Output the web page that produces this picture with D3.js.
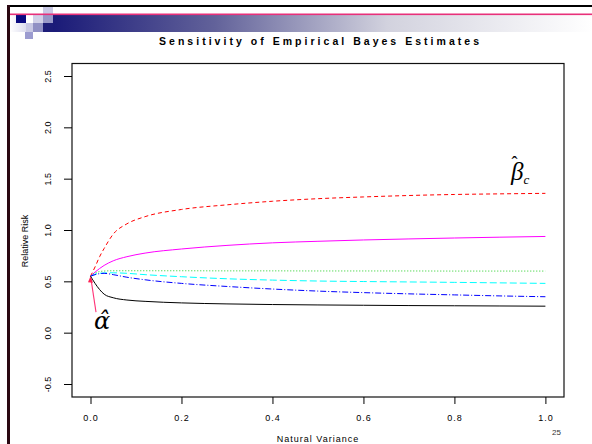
<!DOCTYPE html>
<html><head><meta charset="utf-8">
<script src="https://cdn.jsdelivr.net/npm/d3@7"></script>
<style>body{margin:0;background:#fff}svg{display:block}</style>
</head><body>
<svg id="c" width="592" height="444"></svg>
<script>
const xValues = [0, 0.01, 0.02, 0.03, 0.05, 0.08, 0.12, 0.2, 0.3, 0.4, 0.5, 0.6, 0.7, 0.8, 0.9, 1.0];
const redDashed   = [0.55, 0.64, 0.74, 0.82, 0.96, 1.06, 1.13, 1.20, 1.245, 1.28, 1.305, 1.322, 1.336, 1.346, 1.352, 1.357];
const magentaLine = [0.55, 0.59, 0.625, 0.655, 0.70, 0.74, 0.775, 0.815, 0.85, 0.875, 0.89, 0.903, 0.913, 0.922, 0.93, 0.937];
const greenDotted = [0.55, 0.58, 0.595, 0.60, 0.603, 0.603, 0.603, 0.603, 0.602, 0.602, 0.601, 0.601, 0.601, 0.60, 0.60, 0.60];
const cyanDashed  = [0.55, 0.57, 0.578, 0.582, 0.583, 0.578, 0.565, 0.545, 0.525, 0.512, 0.503, 0.498, 0.494, 0.49, 0.485, 0.48];
const blueDashDot = [0.55, 0.565, 0.575, 0.578, 0.565, 0.54, 0.515, 0.48, 0.45, 0.425, 0.405, 0.39, 0.378, 0.368, 0.358, 0.35];
const blackLine   = [0.55, 0.48, 0.42, 0.375, 0.34, 0.318, 0.305, 0.29, 0.28, 0.274, 0.27, 0.267, 0.264, 0.262, 0.26, 0.258];
const xTicks = [0, 0.2, 0.4, 0.6, 0.8, 1.0];
const yTicks = [-0.5, 0, 0.5, 1.0, 1.5, 2.0, 2.5];
const titleText = "Sensitivity of Empirical Bayes Estimates";
const xLabel = "Natural Variance";
const yLabel = "Relative Risk";
const pageNumber = "25";

const series = [
  {v: redDashed, color: "#ff0000", dash: "4,3"},
  {v: magentaLine, color: "#ff00ff", dash: null},
  {v: greenDotted, color: "#22cc22", dash: "1,2"},
  {v: cyanDashed, color: "#00ffff", dash: "7,3"},
  {v: blueDashDot, color: "#0000ff", dash: "6,2,1,2"},
  {v: blackLine, color: "#000000", dash: null}
];

const svg = d3.select("#c");
const font = "'Liberation Sans', Arial, sans-serif";
const fmt = d => d3.format(".1f")(d).replace("\u2212", "-");

// slide decoration
const defs = svg.append("defs");
const grad = defs.append("linearGradient").attr("id","banner").attr("x1","0%").attr("x2","100%");
grad.append("stop").attr("offset","0%").attr("stop-color","#1a1a78");
grad.append("stop").attr("offset","30%").attr("stop-color","#62629a");
grad.append("stop").attr("offset","62%").attr("stop-color","#d2d2de");
grad.append("stop").attr("offset","100%").attr("stop-color","#ffffff");
const lg = defs.append("linearGradient").attr("id","leftfade").attr("x1","0%").attr("x2","100%");
lg.append("stop").attr("offset","0%").attr("stop-color","#ffffff");
lg.append("stop").attr("offset","100%").attr("stop-color","#dcdcee");

svg.append("rect").attr("x",53).attr("y",15).attr("width",539).attr("height",17).attr("fill","url(#banner)");
svg.append("rect").attr("x",10).attr("y",15).attr("width",16).attr("height",17).attr("fill","url(#leftfade)");
const sq = [
  [43,7,10,8,"#c8c8e4"],
  [16,15,10,8,"#0a0a80"],[26,15,7,8,"#ffffff"],[33,15,10,8,"#d0d0e8"],[43,15,10,8,"#9898c8"],
  [26,23,7,9,"#c8c8e4"],[33,23,10,9,"#9090c4"],[43,23,10,9,"#1c1c78"],
  [25,32,8,7,"#9c9cd0"]
];
svg.selectAll("rect.sq").data(sq).enter().append("rect").attr("class","sq")
  .attr("x",d=>d[0]).attr("y",d=>d[1]).attr("width",d=>d[2]).attr("height",d=>d[3]).attr("fill",d=>d[4]);
svg.append("rect").attr("x",10).attr("y",13.5).attr("width",582).attr("height",1.6).attr("fill","#e8307a");
svg.append("rect").attr("x",7).attr("y",5).attr("width",585).attr("height",2).attr("fill","#000");
svg.append("rect").attr("x",7).attr("y",5).attr("width",3).attr("height",439).attr("fill","#2a0812");

// scales
const x = d3.scaleLinear().domain([0,1]).range([90.5, 545.4]);
const y = d3.scaleLinear().domain([-0.5, 2.5]).range([384, 76]);

// title
svg.append("text").attr("x",159).attr("y",45).attr("textLength",320).attr("lengthAdjust","spacing")
  .attr("font-family",font).attr("font-weight","bold").attr("font-size",10.5).attr("fill","#000").text(titleText);

// box
svg.append("rect").attr("x",72).attr("y",63.5).attr("width",492).attr("height",333.5)
  .attr("fill","none").attr("stroke","#111").attr("stroke-width",1.2);

// x axis
const gx = svg.append("g").attr("transform","translate(0,397)")
  .call(d3.axisBottom(x).tickValues(xTicks).tickSize(7).tickFormat(fmt));
gx.select(".domain").remove();
gx.selectAll(".tick line").attr("stroke","#000");
gx.selectAll(".tick text").attr("y",24).attr("dy",0).attr("font-family",font).attr("font-size",9)
  .attr("letter-spacing","1px").attr("fill","#000");

// y axis
const gy = svg.append("g").attr("transform","translate(72,0)")
  .call(d3.axisLeft(y).tickValues(yTicks).tickSize(8).tickFormat(fmt));
gy.select(".domain").remove();
gy.selectAll(".tick line").attr("stroke","#000");
gy.selectAll(".tick text").attr("transform","rotate(-90)").attr("x",0).attr("y",-21).attr("dy",0)
  .attr("text-anchor","middle").attr("font-family",font).attr("font-size",9).attr("fill","#000");

// axis titles
svg.append("text").attr("x",318).attr("y",442).attr("text-anchor","middle").attr("font-family",font)
  .attr("font-size",9).attr("letter-spacing","1px").text(xLabel);
svg.append("text").attr("transform","translate(28,241) rotate(-90)").attr("text-anchor","middle")
  .attr("font-family",font).attr("font-size",9).text(yLabel);
svg.append("text").attr("x",561).attr("y",435).attr("text-anchor","end").attr("font-family",font)
  .attr("font-size",8).attr("fill","#333").text(pageNumber);

// lines
const line = d3.line().x((d,i)=>x(xValues[i])).y(d=>y(d)).curve(d3.curveMonotoneX);
svg.selectAll("path.series").data(series).enter().append("path").attr("class","series")
  .attr("d",d=>line(d.v)).attr("fill","none").attr("stroke",d=>d.color).attr("stroke-width",1)
  .attr("stroke-dasharray",d=>d.dash);

// alpha-hat pointer
svg.append("line").attr("x1",x(0)+5.5).attr("y1",y(0.2)).attr("x2",x(0)+0.5).attr("y2",y(0.55)+3)
  .attr("stroke","#ff3377").attr("stroke-width",1.1);
svg.append("path").attr("d",`M${x(0)} ${y(0.55)} l-2.5 6 l5 0.5 z`).attr("fill","#ff2255");

// math labels
svg.append("text").attr("x",94).attr("y",329).attr("font-family","'DejaVu Serif', serif").attr("font-style","italic")
  .attr("font-size",24).text("\u03B1\u0302");
const b = svg.append("text").attr("x",511).attr("y",180).attr("font-family","'Liberation Serif', serif")
  .attr("font-style","italic").attr("font-size",25);
b.append("tspan").text("\u03B2");
b.append("tspan").attr("dx",-12).attr("dy",-11).attr("font-size",18).attr("font-style","normal").text("\u02C6");
b.append("tspan").attr("dx",6).attr("dy",15).attr("font-size",13).text("c");
</script>
</body></html>
